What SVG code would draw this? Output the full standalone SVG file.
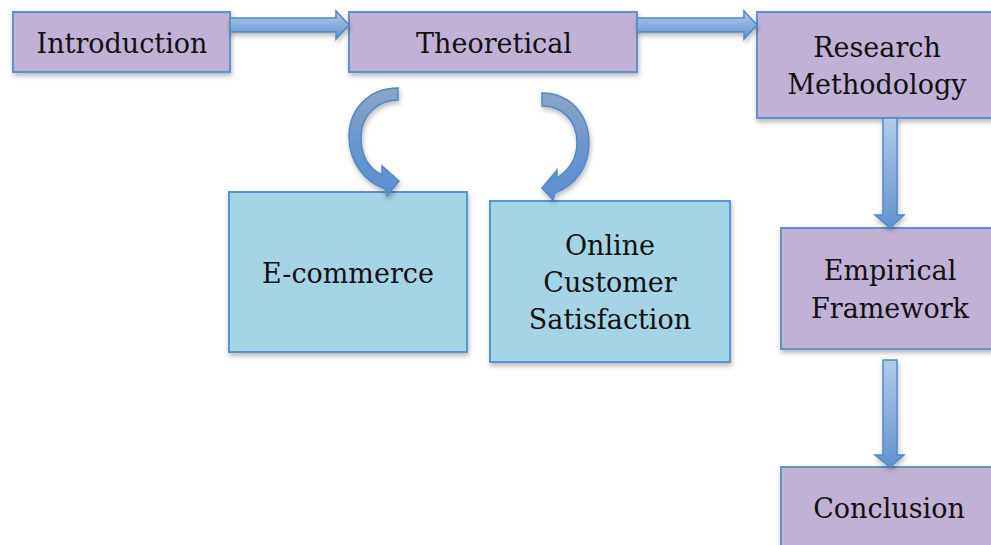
<svg xmlns="http://www.w3.org/2000/svg" width="991" height="545" viewBox="0 0 991 545">
  <defs>
    <filter id="sh" x="-10%" y="-10%" width="130%" height="140%">
      <feDropShadow dx="1" dy="3" stdDeviation="2.5" flood-color="#000" flood-opacity="0.28"/>
    </filter>
    <linearGradient id="gh" x1="0" y1="0" x2="0" y2="1">
      <stop offset="0" stop-color="#b3cbe9"/>
      <stop offset="1" stop-color="#5f93d2"/>
    </linearGradient>
    <linearGradient id="gv" x1="0" y1="0" x2="0" y2="1">
      <stop offset="0" stop-color="#b3cbe9"/>
      <stop offset="1" stop-color="#5f93d2"/>
    </linearGradient>
    <linearGradient id="gc" x1="0" y1="0" x2="0" y2="1">
      <stop offset="0" stop-color="#8ea5c4"/>
      <stop offset="0.5" stop-color="#6b96cf"/>
      <stop offset="1" stop-color="#5b8fd2"/>
    </linearGradient>
  </defs>
  <style>
    .p { fill: #c1b2d5; stroke: #5d94cf; stroke-width: 2; filter: url(#sh); }
    .b { fill: #a4d5e4; stroke: #5d94cf; stroke-width: 2; filter: url(#sh); }
    .t { font-family: "DejaVu Serif", "Liberation Serif", serif; font-size: 27px; fill: #111; text-anchor: middle; }
    .a { stroke: #5289c8; stroke-width: 1.5; stroke-linejoin: miter; filter: url(#sh); }
  </style>
  <rect width="991" height="545" fill="#fff"/>

  <g id="introduction">
    <rect class="p" x="13" y="12" width="217" height="60"/>
    <text class="t" x="122" y="53">Introduction</text>
  </g>
  <g id="theoretical">
    <rect class="p" x="349" y="12" width="288" height="60"/>
    <text class="t" x="494" y="53">Theoretical</text>
  </g>
  <g id="research-methodology">
    <rect class="p" x="757" y="12" width="250" height="106"/>
    <text class="t" x="877" y="57">Research</text>
    <text class="t" x="877" y="94">Methodology</text>
  </g>
  <g id="empirical-framework">
    <rect class="p" x="781" y="228" width="226" height="121"/>
    <text class="t" x="890" y="280">Empirical</text>
    <text class="t" x="890" y="318">Framework</text>
  </g>
  <g id="conclusion">
    <rect class="p" x="781" y="467" width="226" height="100"/>
    <text class="t" x="889" y="518">Conclusion</text>
  </g>
  <g id="e-commerce">
    <rect class="b" x="229" y="192" width="238" height="160"/>
    <text class="t" x="348" y="283">E-commerce</text>
  </g>
  <g id="online-customer-satisfaction">
    <rect class="b" x="490" y="201" width="240" height="161"/>
    <text class="t" x="610" y="255">Online</text>
    <text class="t" x="610" y="292">Customer</text>
    <text class="t" x="610" y="329">Satisfaction</text>
  </g>

  <g id="connectors">
    <path class="a" fill="url(#gh)" d="M230,18 L336,18 L336,11 L349,25 L336,39 L336,32 L230,32 Z"/>
    <path class="a" fill="url(#gh)" d="M637,18 L744,18 L744,11 L757,25 L744,39 L744,32 L637,32 Z"/>
    <path class="a" fill="url(#gv)" d="M883,118 L883,215 L875,215 L890,228 L904,215 L897,215 L897,118 Z"/>
    <path class="a" fill="url(#gv)" d="M883,360 L883,455 L875,455 L890,467 L904,455 L897,455 L897,360 Z"/>
    <path class="a" fill="url(#gc)" d="M398,88 C368,88 349,110 349,137 C349,162 365,182 385,189 L387,196 L399,181 L382,166 L382,175 C368,168 361,155 361,137 C361,115 378,100 398,100 Z"/>
    <path class="a" fill="url(#gc)" d="M542,93 C570,93 589,115 589,143 C589,167 575,186 555,193 L553,200 L542,188 L557,170 L557,178 C569,170 577,158 577,143 C577,120 562,106 542,106 Z"/>
  </g>
</svg>
